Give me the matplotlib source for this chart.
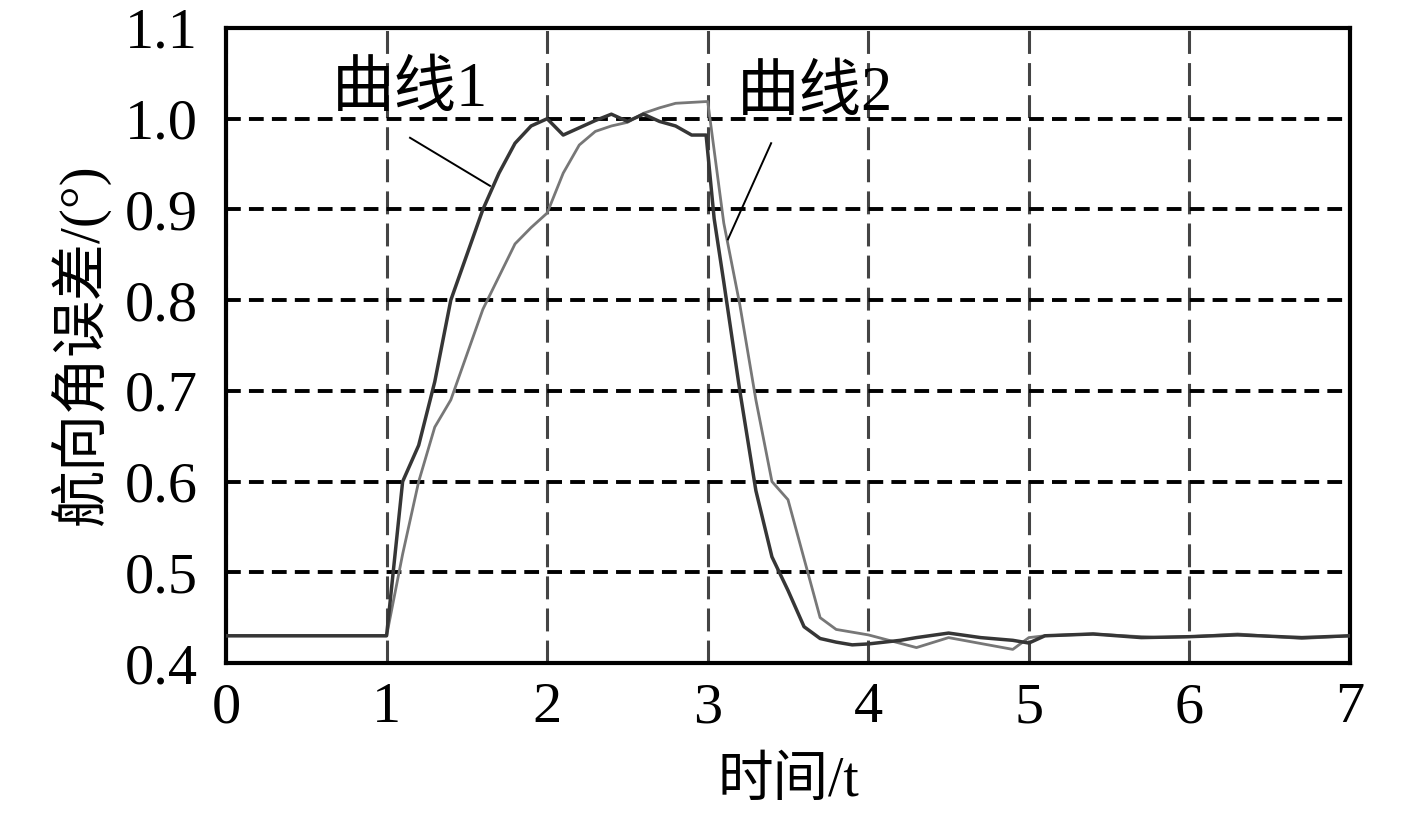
import matplotlib
matplotlib.use("Agg")
import matplotlib.pyplot as plt

# curve 1 (darker)
t1 = [0.0, 1.0, 1.1, 1.2, 1.3, 1.4, 1.5, 1.6, 1.7, 1.8, 1.9, 2.0, 2.1, 2.2, 2.3,
      2.4, 2.5, 2.6, 2.7, 2.8, 2.9, 2.99, 3.04, 3.1, 3.2, 3.3, 3.4, 3.5, 3.6,
      3.7, 3.8, 3.9, 4.0, 4.1, 4.2, 4.3, 4.5, 4.7, 4.9, 5.0, 5.1, 5.4, 5.7,
      6.0, 6.3, 6.7, 7.0]
v1 = [0.43, 0.43, 0.60, 0.64, 0.71, 0.80, 0.85, 0.90, 0.94, 0.973, 0.992, 1.0,
      0.982, 0.99, 0.998, 1.005, 0.997, 1.005, 0.997, 0.992, 0.982, 0.982, 0.89,
      0.82, 0.70, 0.59, 0.517, 0.48, 0.44, 0.427, 0.423, 0.42, 0.421, 0.423,
      0.425, 0.428, 0.433, 0.428, 0.425, 0.422, 0.43, 0.432, 0.428, 0.429,
      0.431, 0.428, 0.43]

# curve 2 (lighter)
t2 = [0.0, 1.0, 1.1, 1.2, 1.3, 1.4, 1.5, 1.6, 1.7, 1.8, 1.9, 2.0, 2.1, 2.2, 2.3,
      2.4, 2.5, 2.6, 2.7, 2.8, 3.0, 3.1, 3.2, 3.3, 3.4, 3.5, 3.7, 3.8, 4.0,
      4.3, 4.5, 4.9, 5.0, 5.1, 5.4, 5.8, 6.0, 6.3, 6.7, 7.0]
v2 = [0.43, 0.43, 0.52, 0.60, 0.66, 0.69, 0.74, 0.79, 0.826, 0.862, 0.88, 0.896,
      0.94, 0.971, 0.986, 0.992, 0.996, 1.006, 1.012, 1.017, 1.019, 0.885, 0.795,
      0.69, 0.60, 0.58, 0.45, 0.437, 0.431, 0.417, 0.428, 0.415, 0.428, 0.43,
      0.432, 0.428, 0.429, 0.432, 0.427, 0.43]

xticks = [0, 1, 2, 3, 4, 5, 6, 7]
yticks = [0.4, 0.5, 0.6, 0.7, 0.8, 0.9, 1.0, 1.1]
ytick_labels = ["0.4", "0.5", "0.6", "0.7", "0.8", "0.9", "1.0", "1.1"]

FAM = ["Liberation Serif", "Noto Sans CJK SC"]
plt.rcParams["font.family"] = FAM

fig = plt.figure(figsize=(14.17, 8.15), dpi=100)
ax = fig.add_axes([226 / 1417, 1 - 663 / 815, 1124 / 1417, 635 / 815])

ax.set_xlim(0, 7)
ax.set_ylim(0.4, 1.1)
ax.set_xticks(xticks)
ax.set_yticks(yticks)
ax.set_yticklabels(ytick_labels)
ax.tick_params(axis="both", length=0, labelsize=42)
ax.tick_params(axis="x", pad=14)
ax.tick_params(axis="y", pad=20)

ax.grid(axis="y", color="black", lw=2.8, linestyle=(0, (3.8, 2.1)))
ax.grid(axis="x", color="#444444", lw=2.2, linestyle=(0, (7.5, 3.0)))
ax.set_axisbelow(True)

for sp in ax.spines.values():
    sp.set_linewidth(3)
    sp.set_color("black")

ax.plot(t2, v2, color="#777777", lw=2.0, zorder=3)
ax.plot(t1, v1, color="#363636", lw=2.5, zorder=4)

# labels pointing to curves
ax.text(0.66, 1.031, "曲线1", fontsize=45, ha="left", va="center")
ax.plot([1.146, 1.644], [0.979, 0.926], color="black", lw=1.4, zorder=5)
ax.text(3.18, 1.026, "曲线2", fontsize=45, ha="left", va="center")
ax.plot([3.395, 3.126], [0.973, 0.867], color="black", lw=1.4, zorder=5)

ax.set_ylabel("航向角误差/(°)", fontsize=41, va="center")
ax.yaxis.set_label_coords(-0.13, 0.5)
ax.set_xlabel("时间/t", fontsize=40, va="center")
ax.xaxis.set_label_coords(0.5, -0.187)

fig.savefig("out.png", dpi=100)
